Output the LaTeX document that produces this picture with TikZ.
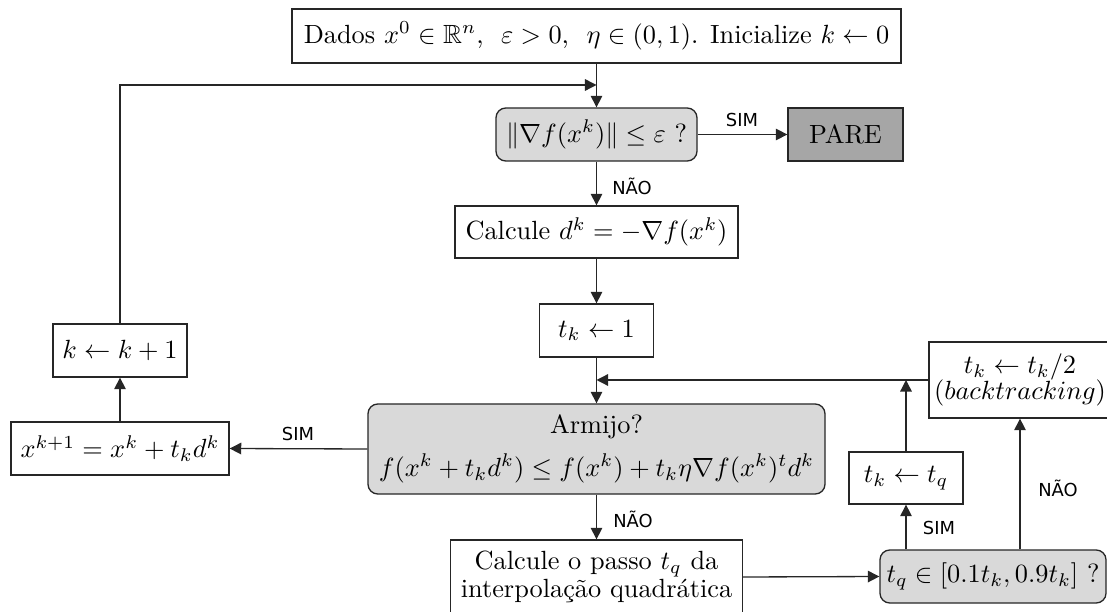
\documentclass[tikz,border=0pt]{standalone}
\usepackage{amsmath,amssymb}
\usepackage{fontspec}
\newfontfamily\lblfont{DejaVu Sans}
\usetikzlibrary{arrows.meta,calc}
\definecolor{lightg}{HTML}{D9D9D9}
\definecolor{darkg}{HTML}{A6A6A6}
\definecolor{edge}{HTML}{262626}
\newcommand\pxu{0.38pt}
\begin{document}
\begin{tikzpicture}[x=0.38pt,y=-0.38pt,
  bx/.style 2 args={draw=edge, line width=0.5pt, minimum width=#1*\pxu, minimum height=#2*\pxu,
    inner sep=1pt, align=center, font=\fontsize{10}{12}\selectfont},
  rbx/.style 2 args={bx={#1}{#2}, rounded corners=3.7pt, fill=lightg},
  arr/.style={draw=edge, line width=0.5pt, -{Triangle[length=4.4pt,width=4.4pt]}},
  lbl/.style={font=\lblfont\fontsize{6.8}{8}\selectfont, inner sep=0pt}]
\useasboundingbox (0,0) rectangle (1107,612);

\node[bx={609}{54}] (init) at (596.5,36) {Dados $x^0\in\mathbb{R}^n$,~~$\varepsilon>0$,~~$\eta\in(0,1)$. Inicialize $k\leftarrow 0$};
\node[rbx={201}{53}] (cond) at (596.5,134.5) {$\|\nabla f(x^k)\|\leq\varepsilon$ ?};
\node[bx={115}{53}, fill=darkg] (pare) at (845.5,134.5) {PARE};
\node[bx={283}{52}] (calcd) at (596.5,232) {Calcule $d^k=-\nabla f(x^k)$};
\node[bx={114}{53}] (tk1) at (596.5,330.5) {$t_k\leftarrow 1$};
\node[rbx={457}{90}] (arm) at (596.5,449) {Armijo?\\[4.2pt] $f(x^k+t_kd^k)\leq f(x^k)+t_k\eta\nabla f(x^k)^td^k$};
\node[bx={292}{74}] (ctq) at (596.5,577) {Calcule o passo $t_q$ da\\[-1.3pt] interpolação quadrática};
\node[rbx={226}{53}] (test) at (993,576.5) {$t_q\in[0.1t_k,0.9t_k]$ ?};
\node[bx={114}{52}] (tktq) at (906,478) {$t_k\leftarrow t_q$};
\node[bx={182}{76}] (tk2) at (1020,380) {$t_k\leftarrow t_k/2$\\[-2pt] $(backtracking)$};
\node[bx={134}{53}] (kk) at (120,350.5) {$k\leftarrow k+1$};
\node[bx={218}{53}] (xk) at (120,448.5) {$x^{k+1}=x^k+t_kd^k$};

\coordinate (fb) at (596.5,85);
\coordinate (mg) at (596.5,380);

\draw[arr] (init.south) -- (cond.north);
\draw[arr] (kk.north) |- (fb);
\draw[arr] (cond.east) -- (pare.west);
\draw[arr] (cond.south) -- (calcd.north);
\draw[arr] (calcd.south) -- (tk1.north);
\draw[arr] (tk1.south) -- (arm.north);
\draw[arr] (tk2.west) -- (mg);
\draw[arr] (arm.west) -- (xk.east);
\draw[arr] (xk.north) -- (kk.south);
\draw[arr] (arm.south) -- (ctq.north);
\draw[arr] (ctq.east) -- (test.west);
\draw[arr] (test.north -| tktq.south) -- (tktq.south);
\draw[arr] (tktq.north) -- (tktq.north |- tk2.west);
\draw[arr] (test.north -| tk2.south) -- (tk2.south);

\node[lbl] (l1) at (742,120) {SIM};
\node[lbl] (l2) at (632,186) {NÃO};
\node[lbl] (l3) at (298,434) {SIM};
\node[lbl] (l4) at (633,519) {NÃO};
\node[lbl] (l5) at (939,528) {SIM};
\node[lbl] (l6) at (1058,488) {NÃO};
\end{tikzpicture}
\end{document}
